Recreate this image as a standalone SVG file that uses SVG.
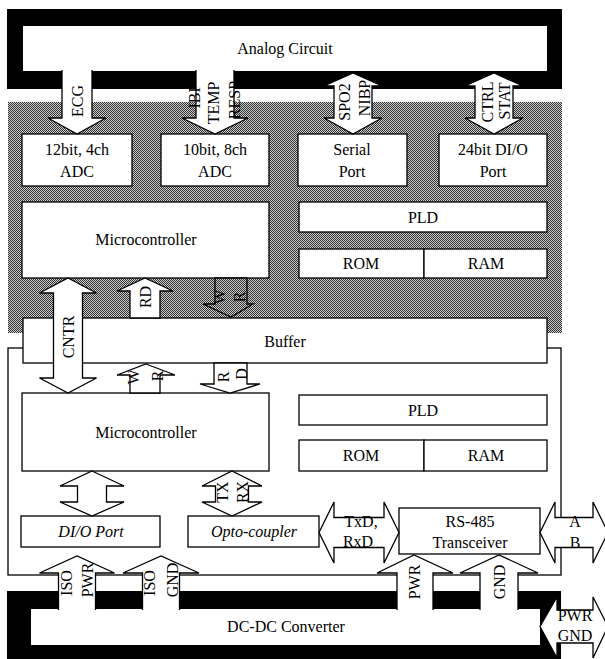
<svg xmlns="http://www.w3.org/2000/svg" width="605" height="659" viewBox="0 0 605 659">
<defs>
<pattern id="dither" width="2" height="2" patternUnits="userSpaceOnUse">
<rect width="2" height="2" fill="#cacaca"/>
<rect x="0" y="0" width="1" height="1" fill="#343434"/>
<rect x="1" y="1" width="1" height="1" fill="#343434"/>
</pattern>
<style>
.t{font-family:"Liberation Serif","Times New Roman",serif;font-size:16px;fill:#000;text-anchor:middle}
.i{font-style:italic}
.box{fill:#fff;stroke:#000;stroke-width:1.3}
.arr{fill:#fff;stroke:#000;stroke-width:1.3;stroke-linejoin:miter}
.arrg{fill:url(#dither);stroke:#000;stroke-width:1.3}
.frame{fill:#000}
</style>
</defs>
<rect width="605" height="659" fill="#fff"/>

<g id="analog-circuit">
<rect class="frame" x="7" y="9" width="555" height="80"/>
<rect x="23" y="26" width="524" height="45" fill="#fff"/>
<text class="t" x="285" y="54">Analog Circuit</text>
</g>

<g id="isolated-board">
<rect x="8" y="102" width="554" height="231" fill="url(#dither)"/>
</g>

<g id="non-isolated-board">
<rect x="8" y="348" width="553" height="227" fill="#fff" stroke="#000" stroke-width="1.3"/>
</g>

<g id="buffer">
<rect class="box" x="23" y="318" width="524" height="45"/>
<text class="t" x="285" y="347">Buffer</text>
</g>

<g id="dcdc-converter">
<rect class="frame" x="7" y="591" width="554" height="68"/>
<rect x="31" y="609" width="509" height="36" fill="#fff"/>
<text class="t" x="286" y="632">DC-DC Converter</text>
</g>

<g id="adc12">
<rect class="box" x="22" y="134" width="110" height="52"/>
<text class="t" x="77" y="155">12bit, 4ch</text>
<text class="t" x="77" y="177">ADC</text>
</g>
<g id="adc10">
<rect class="box" x="161" y="134" width="108" height="52"/>
<text class="t" x="215" y="155">10bit, 8ch</text>
<text class="t" x="215" y="177">ADC</text>
</g>
<g id="serial-port">
<rect class="box" x="298" y="134" width="109" height="52"/>
<text class="t" x="352" y="155">Serial</text>
<text class="t" x="352" y="177">Port</text>
</g>
<g id="dio24">
<rect class="box" x="439" y="134" width="108" height="52"/>
<text class="t" x="493" y="155">24bit DI/O</text>
<text class="t" x="493" y="177">Port</text>
</g>

<g id="mcu-upper">
<rect class="box" x="22" y="202" width="247" height="76"/>
<text class="t" x="146" y="245">Microcontroller</text>
</g>
<g id="pld-upper">
<rect class="box" x="299" y="202" width="248" height="30"/>
<text class="t" x="423" y="223">PLD</text>
</g>
<g id="rom-upper">
<rect class="box" x="299" y="249" width="125" height="29"/>
<text class="t" x="361" y="269">ROM</text>
</g>
<g id="ram-upper">
<rect class="box" x="424" y="249" width="123" height="29"/>
<text class="t" x="486" y="269">RAM</text>
</g>

<g id="mcu-lower">
<rect class="box" x="22" y="393" width="247" height="78"/>
<text class="t" x="146" y="438">Microcontroller</text>
</g>
<g id="pld-lower">
<rect class="box" x="299" y="395" width="248" height="30"/>
<text class="t" x="423" y="416">PLD</text>
</g>
<g id="rom-lower">
<rect class="box" x="299" y="440" width="125" height="31"/>
<text class="t" x="361" y="461">ROM</text>
</g>
<g id="ram-lower">
<rect class="box" x="424" y="440" width="123" height="31"/>
<text class="t" x="486" y="461">RAM</text>
</g>

<g id="dio-port">
<rect class="box" x="21" y="516" width="139" height="31"/>
<text class="t i" x="91" y="537">DI/O Port</text>
</g>
<g id="opto-coupler">
<rect class="box" x="188" y="516" width="131" height="31"/>
<text class="t i" x="254" y="537">Opto-coupler</text>
</g>
<g id="rs485">
<rect class="box" x="399" y="508" width="141" height="46"/>
<text class="t" x="470" y="527">RS-485</text>
<text class="t" x="470" y="548">Transceiver</text>
</g>

<g id="connectors">
<path class="arr" d="M62,70 L62,118 L48,118 L77,134 L106,118 L92,118 L92,70"/>
<path class="arr" d="M196,70 L196,118 L182,118 L215,134 L248,118 L234,118 L234,70"/>
<path class="arr" d="M353,73 L382,86 L372,86 L372,118 L382,118 L353,134 L324,118 L334,118 L334,86 L324,86 Z"/>
<path class="arr" d="M494,73 L523,86 L513,86 L513,118 L523,118 L494,134 L465,118 L475,118 L475,86 L465,86 Z"/>
<path class="arr" d="M68,278 L96.5,293 L82.5,293 L82.5,378 L96.5,378 L68,393 L39.5,378 L53.5,378 L53.5,293 L39.5,293 Z"/>
<path class="arr" d="M145,278 L173,291 L160,291 L160,318 L130,318 L130,291 L117,291 Z"/>
<path class="arrg" d="M215,278 L247,278 L247,304 L253,304 L231,317 L203,304 L215,304 Z"/>
<path class="arr" d="M146,364 L175,375 L160,375 L160,393 L130,393 L130,375 L117,375 Z"/>
<path class="arr" d="M214,363 L247,363 L247,384 L260,384 L230,393 L200,384 L214,384 Z"/>
<path class="arr" d="M92,471 L124,486 L106.5,486 L106.5,502 L124,502 L92,516 L60,502 L77.5,502 L77.5,486 L60,486 Z"/>
<path class="arr" d="M232,471 L262,486 L248.5,486 L248.5,502 L262,502 L232,516 L202,502 L215.5,502 L215.5,486 L202,486 Z"/>
<path class="arr" d="M319,532.5 L334,502 L334,517.5 L384,517.5 L384,502 L399,532.5 L384,563 L384,547.5 L334,547.5 L334,563 Z"/>
<path class="arr" d="M540,532.5 L555,502 L555,517.5 L593,517.5 L593,502 L608,532.5 L593,563 L593,547.5 L555,547.5 L555,563 Z"/>
<path class="arr" d="M58.5,610 L58.5,573 L39.5,573 L77,556 L114.5,573 L95.5,573 L95.5,610"/>
<path class="arr" d="M142.5,610 L142.5,573 L123,573 L161,556 L199,573 L179.5,573 L179.5,610"/>
<path class="arr" d="M397,610 L397,573 L377,573 L414,555 L453,573 L433,573 L433,610"/>
<path class="arr" d="M480,610 L480,573 L460,573 L499,555 L538,573 L518,573 L518,610"/>
<path class="arr" d="M540,626.5 L557,597 L557,610 L593,610 L593,597 L608,626.5 L593,658 L593,643 L557,643 L557,658 Z"/>

<text class="t" transform="translate(82.5,101) rotate(-90)">ECG</text>
<text class="t" transform="translate(200,96) rotate(-90)">IBP</text>
<text class="t" transform="translate(219,103) rotate(-90)">TEMP</text>
<text class="t" transform="translate(240,100) rotate(-90)">RESP</text>
<text class="t" transform="translate(350,102) rotate(-90)">SPO2</text>
<text class="t" transform="translate(370,98) rotate(-90)">NIBP</text>
<text class="t" transform="translate(493,102) rotate(-90)">CTRL</text>
<text class="t" transform="translate(510,101) rotate(-90)">STAT</text>
<text class="t" transform="translate(73.5,337) rotate(-90)">CNTR</text>
<text class="t" transform="translate(151,297) rotate(-90)">RD</text>
<text class="t" transform="translate(224.5,297) rotate(-90)">W</text>
<text class="t" transform="translate(244.5,297) rotate(-90)">R</text>
<text class="t" transform="translate(138.5,377) rotate(-90)">W</text>
<text class="t" transform="translate(162.5,376) rotate(-90)">R</text>
<text class="t" transform="translate(228.5,377) rotate(-90)">R</text>
<text class="t" transform="translate(246.5,374) rotate(-90)">D</text>
<text class="t" transform="translate(227.5,492) rotate(-90)">TX</text>
<text class="t" transform="translate(247.5,492) rotate(-90)">RX</text>
<text class="t" transform="translate(71.5,583) rotate(-90)">ISO</text>
<text class="t" transform="translate(92.5,580) rotate(-90)">PWR</text>
<text class="t" transform="translate(154.5,583) rotate(-90)">ISO</text>
<text class="t" transform="translate(177.5,580) rotate(-90)">GND</text>
<text class="t" transform="translate(419.5,582) rotate(-90)">PWR</text>
<text class="t" transform="translate(504.5,582) rotate(-90)">GND</text>
<text class="t" x="361" y="527">TxD,</text>
<text class="t" x="358" y="547">RxD</text>
<text class="t" x="575" y="527">A</text>
<text class="t" x="575" y="548">B</text>
<text class="t" x="575" y="621">PWR</text>
<text class="t" x="575" y="641">GND</text>
</g>
</svg>
